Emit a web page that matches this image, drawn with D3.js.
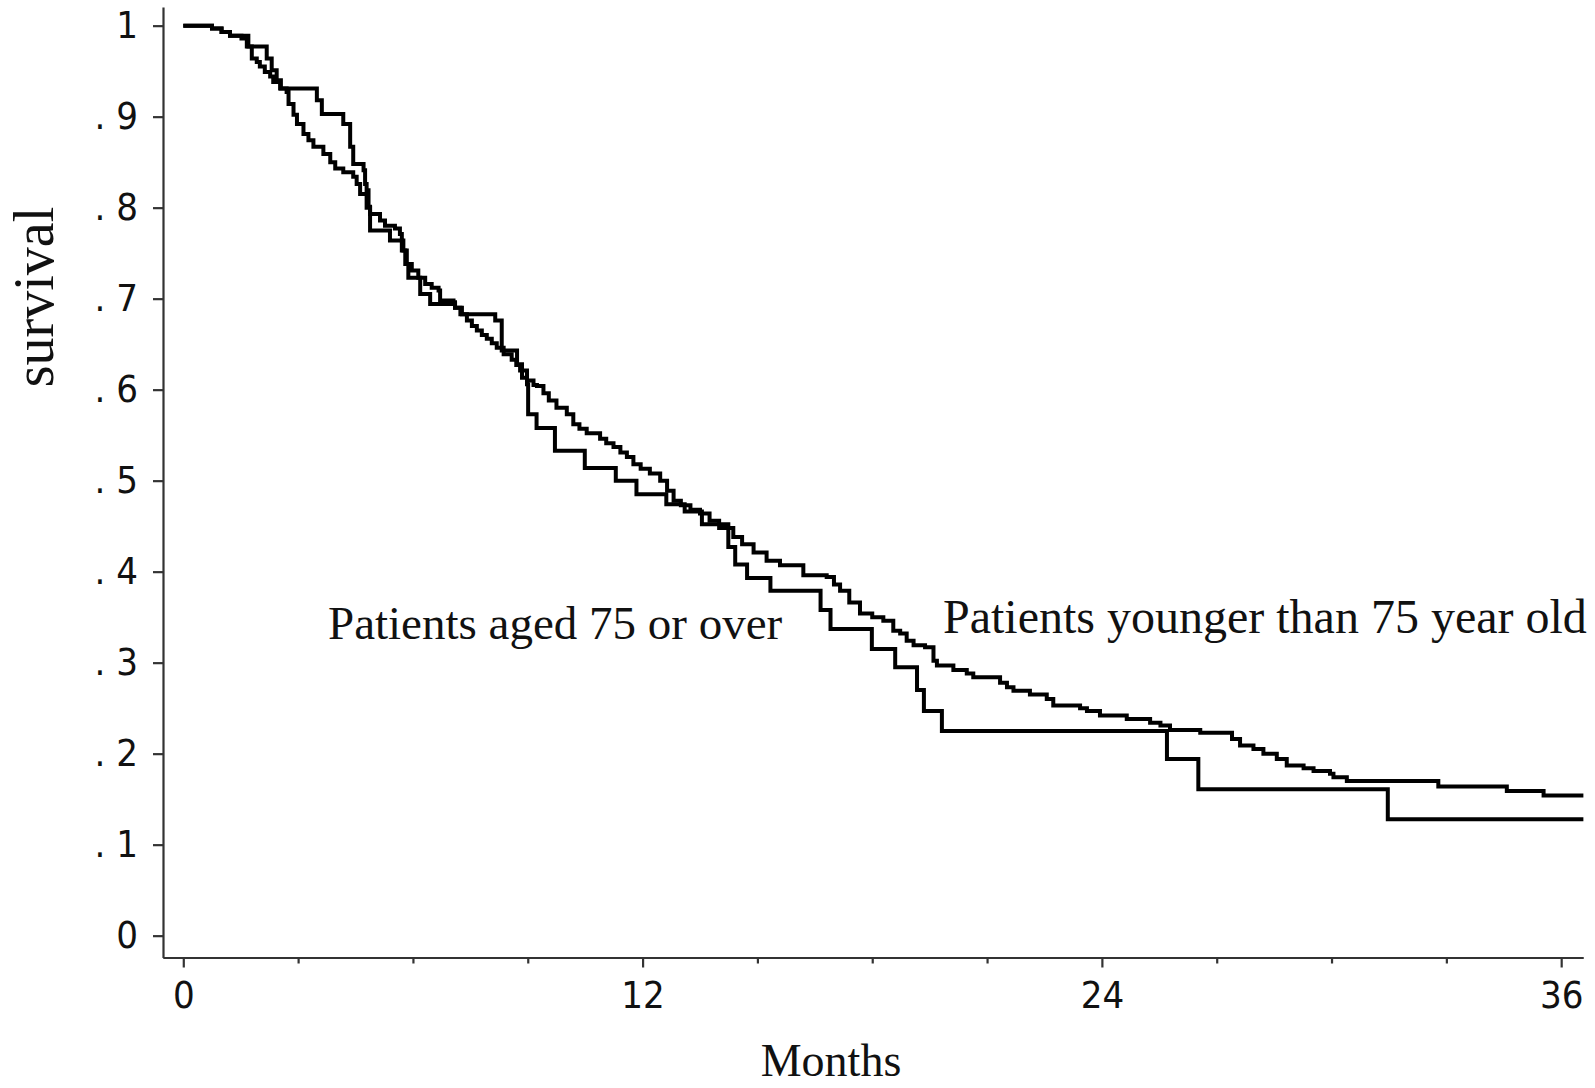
<!DOCTYPE html>
<html>
<head>
<meta charset="utf-8">
<script src="https://cdn.jsdelivr.net/npm/d3@7"></script>
<style>
  body { margin: 0; background: #fff; }
  .tick text { font-family: "Liberation Sans Narrow", "DejaVu Sans Condensed", "Liberation Sans", sans-serif; fill: #111; }
  .serif { font-family: "Liberation Serif", "Times New Roman", serif; fill: #111; }
</style>
</head>
<body>
<svg id="chart"></svg>
<script>
// months and survival at each step (younger than 75)
const youngTimes = [0, 0.75, 1.0, 1.22, 1.52, 1.66, 1.79, 1.92, 2.0, 2.13, 2.27, 2.35, 2.53, 2.7, 2.75, 2.88, 2.97, 3.14, 3.27, 3.4, 3.66, 3.84, 3.97, 4.18, 4.44, 4.53, 4.62, 4.79, 4.88, 5.14, 5.27, 5.53, 5.66, 5.71, 5.75, 5.84, 5.97, 6.14, 6.32, 6.49, 6.67, 6.71, 7.06, 7.1, 7.28, 7.41, 7.54, 7.67, 7.8, 7.93, 8.06, 8.19, 8.37, 8.58, 8.7, 8.8, 8.98, 9.15, 9.24, 9.41, 9.55, 9.75, 10.02, 10.19, 10.35, 10.54, 10.89, 11.05, 11.24, 11.42, 11.59, 11.76, 11.95, 12.19, 12.46, 12.64, 12.81, 13.0, 13.25, 13.5, 13.75, 14.0, 14.37, 14.6, 14.9, 15.24, 15.59, 16.2, 16.81, 17.0, 17.16, 17.4, 17.68, 18.0, 18.29, 18.55, 18.73, 18.9, 19.08, 19.38, 19.6, 19.69, 20.12, 20.47, 20.64, 21.34, 21.52, 21.69, 22.12, 22.56, 22.73, 23.43, 23.61, 23.95, 24.65, 25.26, 25.53, 25.78, 26.57, 27.4, 27.61, 27.96, 28.22, 28.57, 28.83, 29.27, 29.53, 29.96, 30.05, 30.4, 32.79, 34.58, 35.54, 36.58];
const youngSurv = [1, 0.997, 0.993, 0.989, 0.986, 0.977, 0.964, 0.96, 0.955, 0.949, 0.944, 0.938, 0.931, 0.927, 0.914, 0.902, 0.892, 0.881, 0.874, 0.867, 0.859, 0.85, 0.843, 0.839, 0.834, 0.826, 0.815, 0.8, 0.793, 0.786, 0.78, 0.777, 0.771, 0.764, 0.753, 0.738, 0.731, 0.723, 0.716, 0.712, 0.709, 0.698, 0.696, 0.69, 0.683, 0.676, 0.67, 0.665, 0.66, 0.656, 0.651, 0.646, 0.639, 0.633, 0.627, 0.621, 0.61, 0.605, 0.604, 0.596, 0.588, 0.58, 0.573, 0.562, 0.557, 0.552, 0.546, 0.541, 0.537, 0.531, 0.526, 0.518, 0.513, 0.508, 0.5, 0.489, 0.478, 0.473, 0.468, 0.464, 0.456, 0.448, 0.438, 0.43, 0.421, 0.412, 0.407, 0.396, 0.394, 0.386, 0.379, 0.366, 0.354, 0.35, 0.346, 0.335, 0.332, 0.324, 0.319, 0.317, 0.302, 0.297, 0.292, 0.288, 0.284, 0.278, 0.273, 0.269, 0.265, 0.26, 0.253, 0.25, 0.247, 0.242, 0.238, 0.234, 0.231, 0.226, 0.223, 0.216, 0.209, 0.205, 0.2, 0.194, 0.187, 0.184, 0.181, 0.178, 0.174, 0.17, 0.164, 0.159, 0.154, 0.154];

// aged 75 or over
const oldTimes = [0, 0.75, 1.0, 1.22, 1.7, 2.18, 2.31, 2.44, 2.55, 3.49, 3.62, 4.18, 4.36, 4.44, 4.71, 4.75, 4.79, 4.84, 4.88, 5.4, 5.71, 5.8, 5.88, 6.19, 6.45, 7.1, 7.24, 8.15, 8.32, 8.72, 8.85, 8.98, 9.01, 9.23, 9.71, 10.49, 11.3, 11.84, 12.62, 13.1, 13.55, 14.24, 14.42, 14.73, 15.34, 16.65, 16.91, 17.99, 18.6, 19.17, 19.35, 19.82, 25.7, 26.52, 31.47, 36.58];
const oldSurv = [1, 0.997, 0.993, 0.989, 0.977, 0.964, 0.951, 0.94, 0.931, 0.918, 0.903, 0.892, 0.867, 0.848, 0.841, 0.826, 0.819, 0.801, 0.775, 0.764, 0.753, 0.738, 0.723, 0.705, 0.694, 0.69, 0.683, 0.676, 0.643, 0.628, 0.613, 0.606, 0.573, 0.558, 0.533, 0.514, 0.5, 0.485, 0.474, 0.466, 0.452, 0.427, 0.408, 0.393, 0.379, 0.358, 0.337, 0.315, 0.295, 0.27, 0.247, 0.225, 0.194, 0.161, 0.128, 0.128];

const xMajor = [0, 12, 24, 36];
const xMinor = [3, 6, 9, 15, 18, 21, 27, 30, 33];
const yTicks = [0, 0.1, 0.2, 0.3, 0.4, 0.5, 0.6, 0.7, 0.8, 0.9, 1];
const yLabels = ["0", ". 1", ". 2", ". 3", ". 4", ". 5", ". 6", ". 7", ". 8", ". 9", "1"];

const width = 1595;
const height = 1088;

const svg = d3.select("#chart").attr("width", width).attr("height", height);

const x = d3.scaleLinear().domain([-0.53, 36.57]).range([163, 1583]);
const y = d3.scaleLinear().domain([-0.024, 1.0205]).range([957.5, 7]);

// axes
svg.append("g").attr("transform", `translate(0,${y(-0.024)})`)
  .call(d3.axisBottom(x).tickValues(xMajor).tickSize(10).tickSizeOuter(0).tickPadding(14).tickFormat(d3.format("d")));
svg.append("g").attr("transform", `translate(0,${y(-0.024)})`)
  .call(d3.axisBottom(x).tickValues(xMinor).tickSize(6).tickSizeOuter(0).tickFormat(""));

svg.append("g").attr("transform", `translate(${x(-0.53)},0)`)
  .call(d3.axisLeft(y).tickValues(yTicks).tickSize(10).tickSizeOuter(0).tickPadding(15)
    .tickFormat((d, i) => yLabels[i]));

svg.selectAll(".domain, .tick line").attr("stroke", "#333").attr("stroke-width", 2.2);
svg.selectAll(".tick text").style("font-size", "38px");

// curves
const line = d3.line().x(d => x(d[0])).y(d => y(d[1])).curve(d3.curveStepAfter);

svg.append("path")
  .datum(d3.zip(youngTimes, youngSurv))
  .attr("d", line).attr("fill", "none").attr("stroke", "#000").attr("stroke-width", 4);

svg.append("path")
  .datum(d3.zip(oldTimes, oldSurv))
  .attr("d", line).attr("fill", "none").attr("stroke", "#000").attr("stroke-width", 4);

// labels
svg.append("text").attr("class", "serif").attr("x", 328).attr("y", 639)
  .style("font-size", "47px").text("Patients aged 75 or over");
svg.append("text").attr("class", "serif").attr("x", 943).attr("y", 633)
  .style("font-size", "48px").text("Patients younger than 75 year old");

svg.append("text").attr("class", "serif").attr("x", 831).attr("y", 1076)
  .attr("text-anchor", "middle").style("font-size", "46px").text("Months");

svg.append("text").attr("class", "serif")
  .attr("transform", "translate(53,297) rotate(-90)")
  .attr("text-anchor", "middle").style("font-size", "56px").text("survival");
</script>
</body>
</html>
